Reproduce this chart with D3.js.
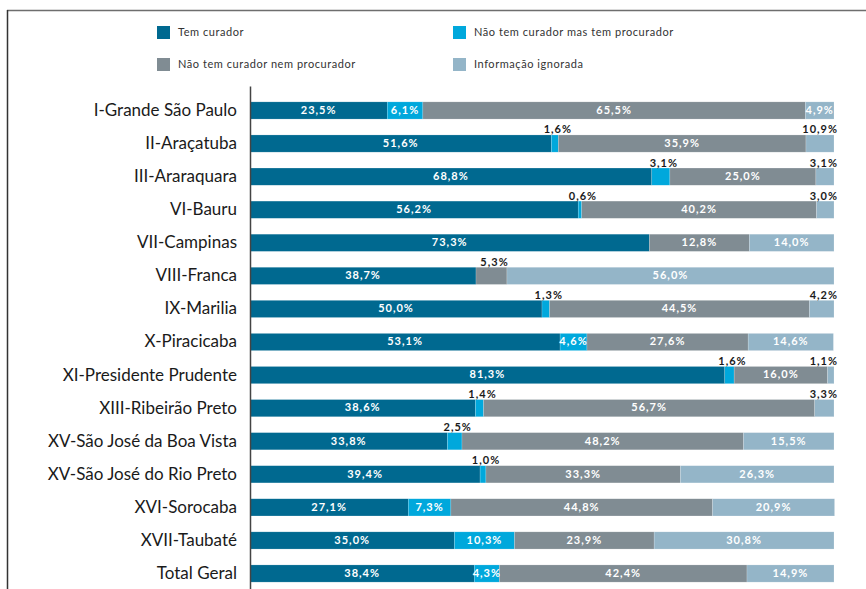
<!DOCTYPE html>
<html>
<head>
<meta charset="utf-8">
<script src="https://cdn.jsdelivr.net/npm/d3@7"></script>
<style>
  body { margin: 0; background: #fff; }
</style>
</head>
<body>
<script>
// Dados
const regioes = [
  "I-Grande São Paulo", "II-Araçatuba", "III-Araraquara", "VI-Bauru", "VII-Campinas",
  "VIII-Franca", "IX-Marilia", "X-Piracicaba", "XI-Presidente Prudente", "XIII-Ribeirão Preto",
  "XV-São José da Boa Vista", "XV-São José do Rio Preto", "XVI-Sorocaba", "XVII-Taubaté", "Total Geral"
];
const series = ["Tem curador", "Não tem curador mas tem procurador", "Não tem curador nem procurador", "Informação ignorada"];
const temCurador    = [23.5, 51.6, 68.8, 56.2, 73.3, 38.7, 50.0, 53.1, 81.3, 38.6, 33.8, 39.4, 27.1, 35.0, 38.4];
const temProcurador = [6.1, 1.6, 3.1, 0.6, 0, 0, 1.3, 4.6, 1.6, 1.4, 2.5, 1.0, 7.3, 10.3, 4.3];
const nemProcurador = [65.5, 35.9, 25.0, 40.2, 12.8, 5.3, 44.5, 27.6, 16.0, 56.7, 48.2, 33.3, 44.8, 23.9, 42.4];
const ignorada      = [4.9, 10.9, 3.1, 3.0, 14.0, 56.0, 4.2, 14.6, 1.1, 3.3, 15.5, 26.3, 20.9, 30.8, 14.9];

// no original, duas barras foram desenhadas com larguras que não batem com os rótulos
const desenhado = {
  "II-Araçatuba": [51.6, 1.2, 42.4, 4.8],
  "VII-Campinas": [68.4, 0, 17.1, 14.5]
};

// rótulos escritos acima da barra (região, índice da série)
const rotulosAcima = [
  ["II-Araçatuba", 1], ["II-Araçatuba", 3], ["III-Araraquara", 1], ["III-Araraquara", 3],
  ["VI-Bauru", 1], ["VI-Bauru", 3], ["VIII-Franca", 2], ["IX-Marilia", 1], ["IX-Marilia", 3],
  ["XI-Presidente Prudente", 1], ["XI-Presidente Prudente", 3], ["XIII-Ribeirão Preto", 1],
  ["XIII-Ribeirão Preto", 3], ["XV-São José da Boa Vista", 1], ["XV-São José do Rio Preto", 1]
];

const cores = ["#006990", "#00a8dc", "#808c93", "#94b5c8"];

// Parâmetros
const width = 866;
const height = 589;

const valores = [temCurador, temProcurador, nemProcurador, ignorada];
const linhas = regioes.map((r, i) => {
  const v = valores.map(s => s[i]);
  const w = desenhado[r] || v;
  let acc = 0;
  return v.map((val, k) => {
    const seg = { regiao: r, serie: k, valor: val, x0: acc, x1: acc + w[k] };
    acc += w[k];
    return seg;
  });
});
const segmentos = linhas.flat();

const svg = d3.select('body')
  .append('svg')
  .attr('width', width)
  .attr('height', height)
  .style('font-family', 'Lato, sans-serif');

// moldura
svg.append('line')
  .attr('x1', 7).attr('x2', width).attr('y1', 10.5).attr('y2', 10.5)
  .attr('stroke', '#6e6e6e').attr('stroke-width', 1.5);
svg.append('line')
  .attr('x1', 7.5).attr('x2', 7.5).attr('y1', 10).attr('y2', height)
  .attr('stroke', '#333').attr('stroke-width', 1.5);

const x = d3.scaleLinear()
  .domain([0, 100])
  .range([250, 834]);

const y = d3.scaleBand()
  .domain(regioes)
  .range([86, 598])
  .padding(0.48);

const cor = d3.scaleOrdinal().domain(d3.range(4)).range(cores);

// barras
svg.append('g')
  .selectAll('rect')
  .data(segmentos.filter(d => d.x1 > d.x0))
  .join('rect')
  .attr('x', d => x(d.x0))
  .attr('y', d => y(d.regiao))
  .attr('width', d => x(d.x1) - x(d.x0))
  .attr('height', y.bandwidth())
  .attr('fill', d => cor(d.serie))
  .attr('stroke', '#fff')
  .attr('stroke-opacity', 0.35)
  .attr('stroke-width', 0.5);

const acima = new Set(rotulosAcima.map(d => d[0] + '|' + d[1]));
const fmt = v => v.toFixed(1).replace('.', ',') + '%';

// rótulos
svg.append('g')
  .style('font-size', '11px')
  .style('font-weight', 'bold')
  .style('letter-spacing', '1px')
  .selectAll('text')
  .data(segmentos.filter(d => d.valor > 0))
  .join('text')
  .each(function (d) {
    const t = d3.select(this);
    const fora = acima.has(d.regiao + '|' + d.serie);
    if (!fora) {
      t.attr('x', (x(d.x0) + x(d.x1)) / 2)
        .attr('y', y(d.regiao) + y.bandwidth() / 2)
        .attr('dy', '0.3em')
        .attr('text-anchor', 'middle')
        .attr('fill', '#fff');
    } else if (d.serie === 3) {
      t.attr('x', x(100) + 4)
        .attr('y', y(d.regiao) - 1.5)
        .attr('text-anchor', 'end')
        .attr('fill', '#1a1a1a');
    } else {
      t.attr('x', (x(d.x0) + x(d.x1)) / 2 + 3)
        .attr('y', y(d.regiao) - 1.5)
        .attr('text-anchor', 'middle')
        .attr('fill', '#1a1a1a');
    }
  })
  .text(d => fmt(d.valor));

// eixo vertical
svg.append('g')
  .attr('transform', `translate(${x(0)}, 0)`)
  .call(d3.axisLeft(y).tickSize(0).tickSizeOuter(0).tickPadding(13))
  .call(g => g.select('.domain').attr('stroke', '#444').attr('stroke-width', 1.5))
  .call(g => g.selectAll('.tick text')
    .attr('fill', '#1a1a1a')
    .style('font-family', 'Lato, sans-serif')
    .style('font-size', '17px'));

// legenda
const legenda = svg.append('g')
  .style('font-size', '11px')
  .style('letter-spacing', '0.55px')
  .selectAll('g')
  .data(series)
  .join('g')
  .attr('transform', (d, i) => `translate(${i % 2 ? 453 : 157}, ${i < 2 ? 26 : 58})`);

legenda.append('rect')
  .attr('width', 13)
  .attr('height', 13)
  .attr('fill', (d, i) => cores[i]);

legenda.append('text')
  .attr('x', 21)
  .attr('y', 6.5)
  .attr('dy', '0.35em')
  .attr('fill', '#333')
  .text(d => d);
</script>
</body>
</html>
